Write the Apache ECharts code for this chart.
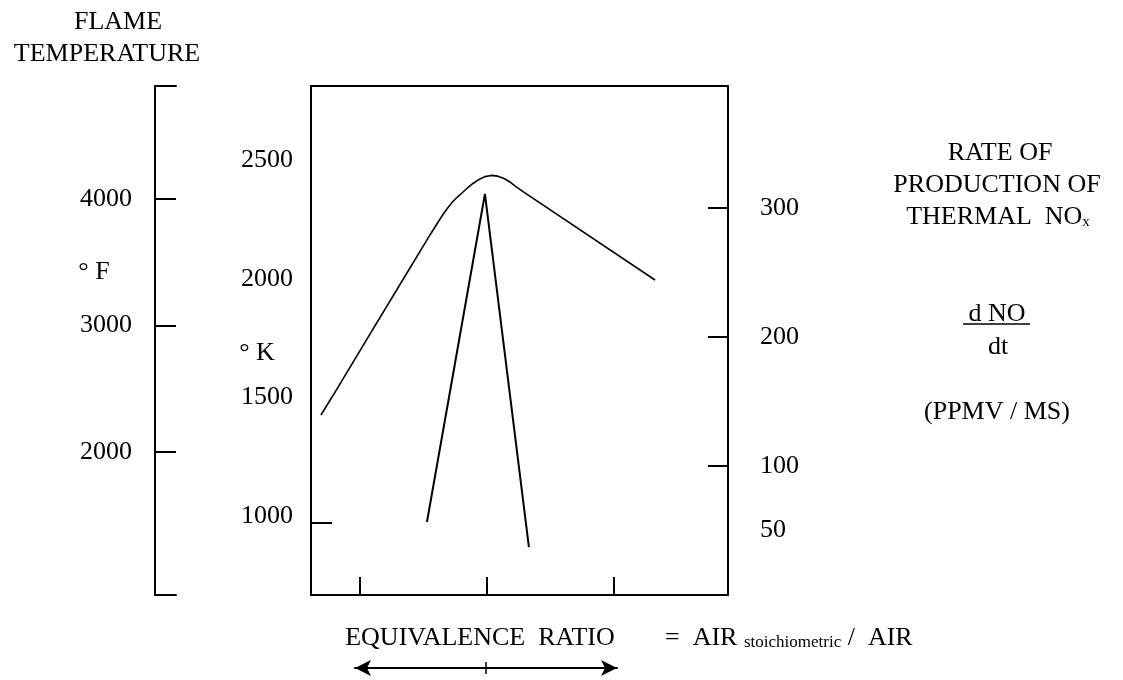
<!DOCTYPE html>
<html><head><meta charset="utf-8">
<script src="https://cdn.jsdelivr.net/npm/echarts@6/dist/echarts.min.js"></script>
<style>html,body{margin:0;padding:0;background:#fff}#c{width:1123px;height:680px}</style>
</head><body><div id="c"></div>
<script>
// ---- data ----
const phiTicks = [0.5, 1.0, 1.5];
const tempPhi = [0.349, 0.397, 0.530, 0.660, 0.778, 0.805, 0.829, 0.849, 0.868, 0.888, 0.908, 0.927, 0.947, 0.971, 0.994, 1.018, 1.045, 1.069, 1.093, 1.116, 1.144, 1.663];
const tempK   = [1455, 1538, 1775, 2005, 2214, 2260, 2300, 2330, 2355, 2376, 2395, 2414, 2431, 2448, 2460, 2465, 2462, 2452, 2437, 2418, 2397, 2024];
const noxPhi  = [0.766, 0.994, 1.167];
const noxRate = [56.6, 310.9, 37.2];
const kelvinLabels = [1000, 1500, 2000, 2500];
const kelvinTicks = [1000];
const fahrLabels = [2000, 3000, 4000];
const noxLabels = [50, 100, 200, 300];
const noxTicks = [100, 200, 300];
const arrowMid = [1];

const FONT = '"Liberation Serif", "Times New Roman", serif';
const INK = '#000';
const line = { color: INK, width: 2 };
const plain = v => String(v);
const lbl = { color: INK, fontFamily: FONT, fontSize: 26, formatter: plain };

const chart = echarts.init(document.getElementById('c'), null, { renderer: 'canvas' });

function txt(x, y, text, size, align) {
  return { type: 'text', x: x, y: y, silent: true,
    style: { text: text, font: (size || 26) + 'px ' + FONT, fill: INK,
      align: align || 'center', verticalAlign: 'middle' } };
}

const option = {
  animation: false,
  backgroundColor: '#fff',
  grid: [
    { left: 311, top: 86, width: 417, height: 509, outerBoundsMode: 'none' },
    { left: 155, top: 86, width: 21, height: 509, outerBoundsMode: 'none' },
    { left: 355, top: 667, width: 262, height: 1, outerBoundsMode: 'none' }
  ],
  xAxis: [
    { gridIndex: 0, type: 'value', min: 0.31, max: 1.95, position: 'bottom',
      axisLine: { show: true, onZero: false, lineStyle: line },
      axisTick: { show: true, inside: true, length: 18, customValues: phiTicks, lineStyle: line },
      axisLabel: { show: false }, splitLine: { show: false } },
    { gridIndex: 0, type: 'value', min: 0.31, max: 1.95, position: 'top',
      axisLine: { show: true, onZero: false, lineStyle: line },
      axisTick: { show: false }, axisLabel: { show: false }, splitLine: { show: false } },
    { gridIndex: 1, type: 'value', min: 0, max: 1, position: 'bottom',
      axisLine: { show: true, onZero: false, lineStyle: line },
      axisTick: { show: false }, axisLabel: { show: false }, splitLine: { show: false } },
    { gridIndex: 1, type: 'value', min: 0, max: 1, position: 'top',
      axisLine: { show: true, onZero: false, lineStyle: line },
      axisTick: { show: false }, axisLabel: { show: false }, splitLine: { show: false } },
    { gridIndex: 2, type: 'value', min: 0, max: 2, position: 'bottom',
      axisLine: { show: true, onZero: false, symbol: ['arrow', 'arrow'], symbolSize: [12, 16], lineStyle: line },
      axisTick: { show: true, inside: false, length: 6, customValues: arrowMid, lineStyle: { color: INK, width: 1.5 } },
      axisLabel: { show: false }, splitLine: { show: false } },
    { gridIndex: 2, type: 'value', min: 0, max: 2, position: 'top',
      axisLine: { show: false },
      axisTick: { show: true, inside: false, length: 6, customValues: arrowMid, lineStyle: { color: INK, width: 1.5 } },
      axisLabel: { show: false }, splitLine: { show: false } }
  ],
  yAxis: [
    { gridIndex: 0, type: 'value', min: 696, max: 2842, position: 'left',
      axisLine: { show: true, onZero: false, lineStyle: line },
      axisTick: { show: true, inside: true, length: 21, customValues: kelvinTicks, lineStyle: line },
      axisLabel: Object.assign({ show: true, margin: 18, customValues: kelvinLabels,
        verticalAlign: 'bottom', lineHeight: 14 }, lbl),
      splitLine: { show: false } },
    { gridIndex: 0, type: 'value', min: 0, max: 394.6, position: 'right',
      axisLine: { show: true, onZero: false, lineStyle: line },
      axisTick: { show: true, inside: true, length: 20, customValues: noxTicks, lineStyle: line },
      axisLabel: Object.assign({ show: true, margin: 32, customValues: noxLabels }, lbl),
      splitLine: { show: false } },
    { gridIndex: 1, type: 'value', min: 870, max: 4893, position: 'left',
      axisLine: { show: true, onZero: false, lineStyle: line },
      axisTick: { show: true, inside: true, length: 21, customValues: fahrLabels, lineStyle: line },
      axisLabel: Object.assign({ show: true, margin: 23, customValues: fahrLabels }, lbl),
      splitLine: { show: false } },
    { gridIndex: 2, type: 'value', min: 0, max: 1, show: false }
  ],
  series: [
    { type: 'line', xAxisIndex: 0, yAxisIndex: 0, silent: true, showSymbol: false, symbol: 'none',
      data: tempPhi.map((p, i) => [p, tempK[i]]),
      lineStyle: { color: INK, width: 1.6 } },
    { type: 'line', xAxisIndex: 0, yAxisIndex: 1, silent: true, showSymbol: false, symbol: 'none',
      data: noxPhi.map((p, i) => [p, noxRate[i]]),
      lineStyle: { color: INK, width: 2 } }
  ],
  graphic: [
    txt(118, 22, 'FLAME'),
    txt(107, 54, 'TEMPERATURE'),
    txt(94, 272, '° F'),
    txt(257, 353, '° K'),
    txt(1000, 153, 'RATE OF'),
    txt(997, 185, 'PRODUCTION OF'),
    { type: 'text', x: 998, y: 217, silent: true,
      style: { text: '{a|THERMAL  NO}{s|x}', align: 'center', verticalAlign: 'middle', fill: INK,
        rich: { a: { fontFamily: FONT, fontSize: 26, fill: INK, color: INK },
                s: { fontFamily: FONT, fontSize: 15, fill: INK, color: INK, verticalAlign: 'bottom' } } } },
    txt(997, 314, 'd NO'),
    { type: 'line', silent: true, shape: { x1: 963, y1: 324, x2: 1030, y2: 324 }, style: { stroke: INK, lineWidth: 1.5 } },
    txt(998, 347, 'dt'),
    txt(997, 412, '(PPMV / MS)'),
    txt(480, 638, 'EQUIVALENCE  RATIO'),
    { type: 'text', x: 665, y: 638, silent: true,
      style: { text: '{a|=  AIR }{s|stoichiometric}{a| /  AIR}', align: 'left', verticalAlign: 'middle', fill: INK,
        rich: { a: { fontFamily: FONT, fontSize: 26, fill: INK, color: INK },
                s: { fontFamily: FONT, fontSize: 17, fill: INK, color: INK, verticalAlign: 'bottom' } } } }
  ]
};
chart.setOption(option);
</script>
</body></html>
